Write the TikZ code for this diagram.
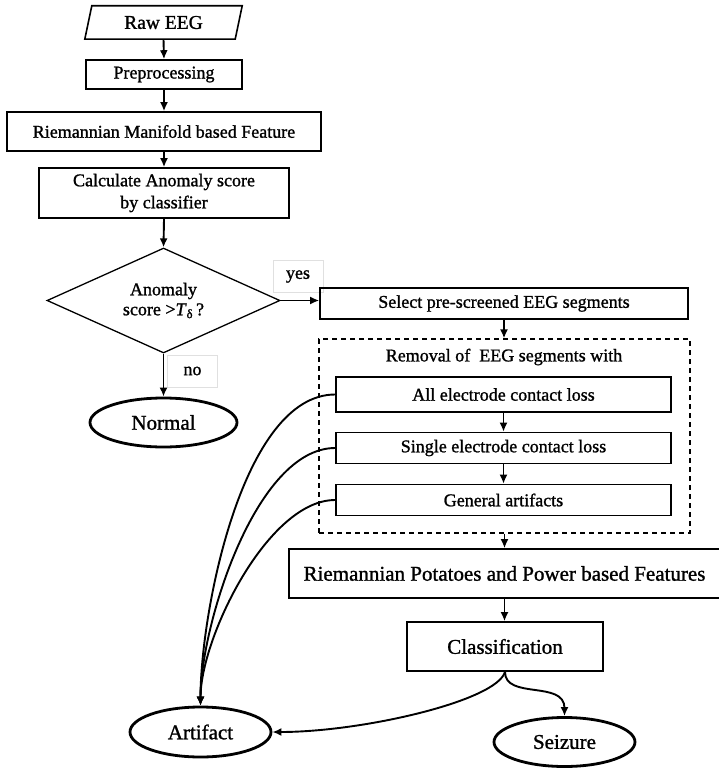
\documentclass[tikz,border=0pt]{standalone}
\usepackage{fontspec}
\setmainfont{Liberation Serif}[UprightFeatures={FakeBold=1.2}, ItalicFeatures={FakeBold=1.2}]
\usetikzlibrary{shapes.geometric,arrows.meta,calc}
\begin{document}
\begin{tikzpicture}[x=1pt,y=-1pt,
  box/.style={draw, line width=1.6pt, inner sep=0pt, align=center, font=\fontsize{18}{22}\selectfont},
  bigbox/.style={box, font=\fontsize{21}{24}\selectfont},
  oval/.style={ellipse, draw, line width=2.8pt, inner sep=0pt, font=\fontsize{21}{24}\selectfont},
  arr/.style={-{Latex[length=9pt,width=8pt]}, line width=1.9pt},
  lbl/.style={draw=black!12, line width=0.6pt, font=\fontsize{18}{20}\selectfont, minimum width=50, minimum height=32, inner sep=0pt}
]
\fill[white] (0,0) rectangle (718,768);
\useasboundingbox (0,0) rectangle (718,768);

% left column
\node[minimum width=150, minimum height=33, inner sep=0pt, font=\fontsize{19.5}{22}\selectfont] (raw) at (163.5,22.5) {Raw EEG};
\draw[line width=1.6pt] ($(raw.south west)+(-3.5,0)$) -- ($(raw.north west)+(3.5,0)$) -- ($(raw.north east)+(3.5,0)$) -- ($(raw.south east)+(-3.5,0)$) -- cycle;
\node[box, minimum width=156, minimum height=29] (pre) at (164,74.5) {Preprocessing};
\node[box, minimum width=314, minimum height=39] (rmf) at (164,131.5) {Riemannian Manifold based Feature};
\node[box, minimum width=250, minimum height=50] (calc) at (164,193) {Calculate Anomaly score\\by classifier};
\node[diamond, draw, line width=1.3pt, aspect=2.2, minimum width=233, minimum height=105, inner sep=0pt, align=center, font=\fontsize{18}{20}\selectfont] (dec) at (163.5,300.5) {Anomaly\\score >\textit{T}\textsubscript{δ}\,?};
\node[oval, minimum width=147, minimum height=49] (normal) at (163.5,422.5) {Normal};
\node[lbl] (yes) at (298,276.5) {yes};
\node[lbl] (no) at (192.5,371) {no};

% right column
\node[box, minimum width=368, minimum height=31] (sel) at (504,303.5) {Select pre-screened EEG segments};
\node[draw, line width=1.2pt, dash pattern=on 5pt off 4pt, minimum width=371, minimum height=194, inner sep=0pt] (rem) at (504.5,436) {};
\node[font=\fontsize{18}{22}\selectfont, inner sep=0pt] (remt) at (504,357) {Removal of~ EEG segments with};
\node[box, minimum width=335, minimum height=35] (all) at (503.5,394.5) {All electrode contact loss};
\node[box, minimum width=335, minimum height=31] (sing) at (503.5,448) {Single electrode contact loss};
\node[box, minimum width=335, minimum height=31] (gen) at (503.5,500) {General artifacts};
\node[bigbox, minimum width=431, minimum height=49] (pot) at (504.5,573.5) {Riemannian Potatoes and Power based Features};
\node[bigbox, minimum width=196, minimum height=49] (cls) at (505,646.5) {Classification};
\node[oval, minimum width=141, minimum height=50] (art) at (200.5,732) {Artifact};
\node[oval, minimum width=141, minimum height=49] (sei) at (564.5,742) {Seizure};

% connectors
\draw[arr] (raw.south) -- (pre.north);
\draw[arr] (pre.south) -- (rmf.north);
\draw[arr] (rmf.south) -- (calc.north);
\draw[arr] (calc.south) -- (dec.north);
\draw[arr] (dec.east) -- (dec.east -| sel.west);
\draw[arr] (dec.south) -- (normal.north);
\draw[arr] (sel.south) -- (sel.south |- rem.north);
\draw[arr] (all.south) -- (sing.north);
\draw[arr] (sing.south) -- (gen.north);
\draw[arr] (rem.south) -- (rem.south |- pot.north);
\draw[arr] (pot.south) -- (pot.south |- cls.north);
\draw[arr] (all.west) to[out=180,in=90,looseness=0.7] (art.north);
\draw[arr] (sing.west) to[out=180,in=90,looseness=0.7] (art.north);
\draw[arr] (gen.west) to[out=180,in=90,looseness=0.7] (art.north);
\draw[arr] (cls.south) .. controls +(-8,29) and +(90,0) .. (art.east);
\draw[arr] (cls.south) .. controls +(0,28) and +(0,-36) .. (sei.north);
\end{tikzpicture}
\end{document}
